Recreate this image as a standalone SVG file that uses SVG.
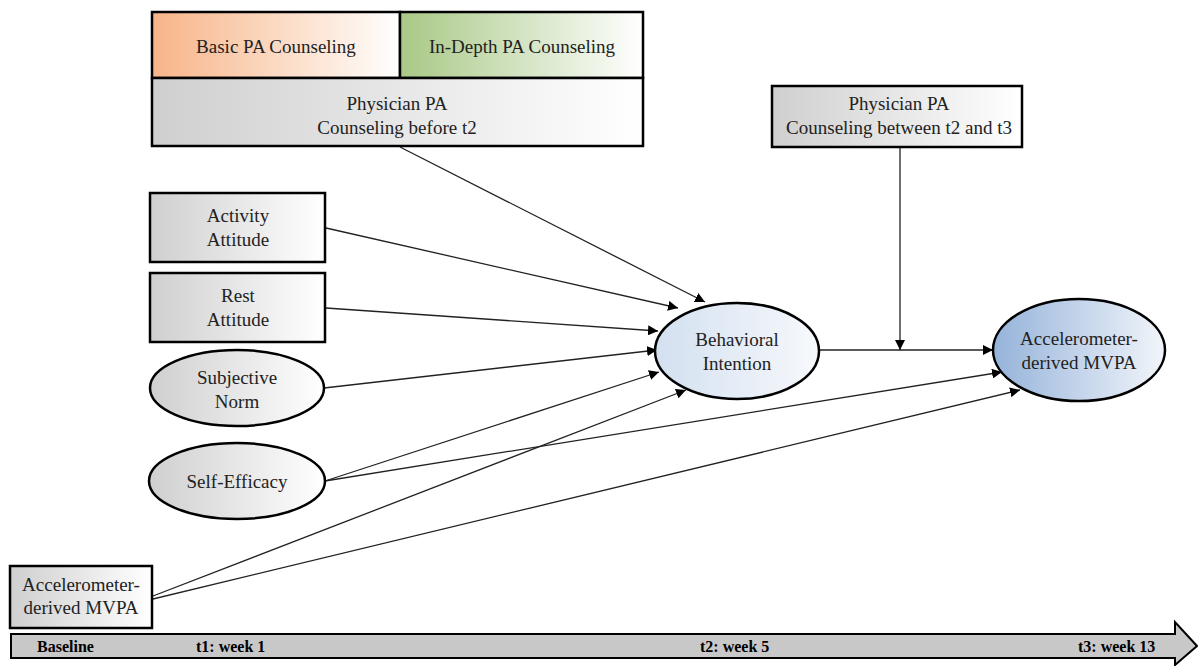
<svg xmlns="http://www.w3.org/2000/svg" width="1198" height="666" viewBox="0 0 1198 666">
<defs>
<linearGradient id="gGray" x1="0" y1="0" x2="1" y2="0"><stop offset="0" stop-color="#cfcfcf"/><stop offset="1" stop-color="#ffffff"/></linearGradient>
<linearGradient id="gOrange" x1="0" y1="0" x2="1" y2="0"><stop offset="0" stop-color="#f7b487"/><stop offset="1" stop-color="#ffffff"/></linearGradient>
<linearGradient id="gGreen" x1="0" y1="0" x2="1" y2="0"><stop offset="0" stop-color="#a9c886"/><stop offset="1" stop-color="#ffffff"/></linearGradient>
<linearGradient id="gBlueL" x1="0" y1="0" x2="1" y2="0"><stop offset="0" stop-color="#d3e0f0"/><stop offset="1" stop-color="#f7f9fc"/></linearGradient>
<linearGradient id="gBlueD" x1="0" y1="0" x2="1" y2="0"><stop offset="0" stop-color="#95b3da"/><stop offset="1" stop-color="#f2f5fa"/></linearGradient>
<marker id="ah" viewBox="0 0 10 10" refX="10" refY="5" markerWidth="10" markerHeight="10" markerUnits="userSpaceOnUse" orient="auto"><path d="M0,0 L10,5 L0,10 z" fill="#000"/></marker>
<style>
.box{stroke:#000;stroke-width:2.5}
text{font-family:'Liberation Serif','DejaVu Serif','Times New Roman',serif}
.t{font-size:19px;fill:#222;text-anchor:middle}
.tb{font-size:16px;font-weight:bold;fill:#000}
.c{stroke:#222;stroke-width:1.3;fill:none;marker-end:url(#ah)}
</style>
</defs>
<g id="connectors">
<line class="c" x1="400" y1="147" x2="705" y2="302"/>
<line class="c" x1="326" y1="228" x2="678" y2="308"/>
<line class="c" x1="326" y1="308" x2="658" y2="331"/>
<line class="c" x1="324" y1="388" x2="657" y2="350"/>
<line class="c" x1="325" y1="481" x2="659" y2="372"/>
<line class="c" x1="325" y1="481" x2="1002" y2="372"/>
<line class="c" x1="153" y1="596" x2="686" y2="390"/>
<line class="c" x1="153" y1="599" x2="1020" y2="390"/>
<line class="c" x1="820" y1="350" x2="993" y2="350"/>
<line class="c" x1="900" y1="147" x2="900" y2="350"/>
</g>
<g id="pa-before-t2">
<rect class="box" x="152" y="12" width="248" height="66" fill="url(#gOrange)"/>
<rect class="box" x="400" y="12" width="243" height="66" fill="url(#gGreen)"/>
<rect class="box" x="152" y="78" width="491" height="68" fill="url(#gGray)"/>
<text class="t" x="276" y="53" font-family="Liberation Serif, serif">Basic PA Counseling</text>
<text class="t" x="522" y="53" font-family="Liberation Serif, serif">In-Depth PA Counseling</text>
<text class="t" x="397" y="110" font-family="Liberation Serif, serif">Physician PA</text>
<text class="t" x="397" y="134" font-family="Liberation Serif, serif">Counseling before t2</text>
</g>
<g id="pa-between">
<rect class="box" x="772" y="86" width="250" height="61" fill="url(#gGray)"/>
<text class="t" x="899" y="110" font-family="Liberation Serif, serif">Physician PA</text>
<text class="t" x="899" y="134" font-family="Liberation Serif, serif">Counseling between t2 and t3</text>
</g>
<g id="activity-attitude">
<rect class="box" x="150" y="193" width="175" height="69" fill="url(#gGray)"/>
<text class="t" x="238" y="222" font-family="Liberation Serif, serif">Activity</text>
<text class="t" x="238" y="246" font-family="Liberation Serif, serif">Attitude</text>
</g>
<g id="rest-attitude">
<rect class="box" x="150" y="273" width="175" height="69" fill="url(#gGray)"/>
<text class="t" x="238" y="302" font-family="Liberation Serif, serif">Rest</text>
<text class="t" x="238" y="326" font-family="Liberation Serif, serif">Attitude</text>
</g>
<g id="subjective-norm">
<ellipse class="box" cx="237" cy="388" rx="87" ry="38" fill="url(#gGray)"/>
<text class="t" x="237" y="384" font-family="Liberation Serif, serif">Subjective</text>
<text class="t" x="237" y="408" font-family="Liberation Serif, serif">Norm</text>
</g>
<g id="self-efficacy">
<ellipse class="box" cx="237" cy="481" rx="88" ry="38" fill="url(#gGray)"/>
<text class="t" x="237" y="488" font-family="Liberation Serif, serif">Self-Efficacy</text>
</g>
<g id="mvpa-baseline">
<rect class="box" x="10" y="566" width="142" height="62" fill="url(#gGray)"/>
<text class="t" x="81" y="591" font-family="Liberation Serif, serif">Accelerometer-</text>
<text class="t" x="81" y="614" font-family="Liberation Serif, serif">derived MVPA</text>
</g>
<g id="behavioral-intention">
<ellipse class="box" cx="737" cy="351" rx="82" ry="48" fill="url(#gBlueL)"/>
<text class="t" x="737" y="346" font-family="Liberation Serif, serif">Behavioral</text>
<text class="t" x="737" y="370" font-family="Liberation Serif, serif">Intention</text>
</g>
<g id="mvpa-t3">
<ellipse class="box" cx="1079" cy="350" rx="86" ry="51" fill="url(#gBlueD)"/>
<text class="t" x="1079" y="345" font-family="Liberation Serif, serif">Accelerometer-</text>
<text class="t" x="1079" y="369" font-family="Liberation Serif, serif">derived MVPA</text>
</g>
<g id="timeline">
<path d="M11,634 H1175 V622 L1197,646 L1175,665 V658 H11 Z" fill="#c8c8c8" stroke="#000" stroke-width="2"/>
<text class="tb" x="37" y="652" font-family="Liberation Serif, serif">Baseline</text>
<text class="tb" x="196" y="652" font-family="Liberation Serif, serif">t1: week 1</text>
<text class="tb" x="700" y="652" font-family="Liberation Serif, serif">t2: week 5</text>
<text class="tb" x="1078" y="652" font-family="Liberation Serif, serif">t3: week 13</text>
</g>
</svg>
